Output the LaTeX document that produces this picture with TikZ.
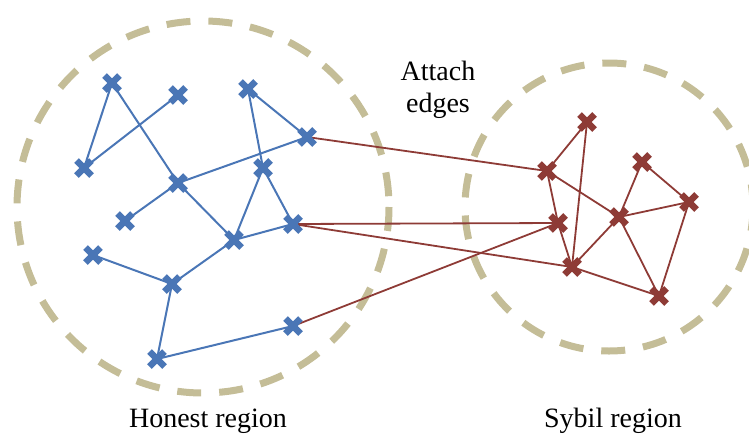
\documentclass[tikz,border=0pt]{standalone}
\usepackage{fontspec}
\setmainfont{Liberation Serif}
\definecolor{honestblue}{HTML}{4A76B6}
\definecolor{sybilred}{HTML}{8E3B36}
\definecolor{regiontan}{HTML}{C4BD97}
\tikzset{
  region/.style={draw=regiontan, line width=7pt, dash pattern=on 24pt off 18pt},
  hedge/.style={draw=honestblue, line width=2pt},
  sedge/.style={draw=sybilred, line width=1.8pt},
  hmark/.style={draw=honestblue, line width=6.5pt},
  smark/.style={draw=sybilred, line width=6.5pt},
  caption/.style={font=\fontsize{28}{32}\selectfont, align=center, inner sep=0pt}
}
\begin{document}
\begin{tikzpicture}[x=1pt, y=-1pt]
\useasboundingbox (0,0) rectangle (749,434);
\begin{scope}
\clip (0,0) rectangle (749,434);
% the two regions
\draw[region] (203,207) circle[radius=186];
\draw[region] (609,207) circle[radius=144];
\end{scope}

% honest nodes
\coordinate (h1) at (112,83);
\coordinate (h2) at (178,95);
\coordinate (h3) at (248,89);
\coordinate (h4) at (307,137);
\coordinate (h5) at (84,168);
\coordinate (h6) at (263,168);
\coordinate (h7) at (178,183);
\coordinate (h8) at (125,221);
\coordinate (h9) at (293,224);
\coordinate (h10) at (234,240);
\coordinate (h11) at (93,255);
\coordinate (h12) at (172,284);
\coordinate (h13) at (293,326);
\coordinate (h14) at (157,359);

% sybil nodes
\coordinate (s1) at (587,122);
\coordinate (s2) at (547,171);
\coordinate (s3) at (642,162);
\coordinate (s4) at (689,202);
\coordinate (s5) at (619,217);
\coordinate (s6) at (558,223);
\coordinate (s7) at (572,267);
\coordinate (s8) at (659,296);

% honest edges
\foreach \a/\b in {h1/h5, h5/h2, h1/h7, h7/h4, h3/h4, h3/h6, h7/h8, h7/h10,
                   h6/h10, h6/h9, h10/h9, h10/h12, h11/h12, h12/h14, h14/h13}
  \draw[hedge] (\a) -- (\b);

% sybil edges
\foreach \a/\b in {s1/s2, s1/s7, s2/s6, s2/s5, s6/s7, s7/s5, s5/s3, s5/s4,
                   s3/s4, s5/s8, s4/s8, s7/s8}
  \draw[sedge] (\a) -- (\b);

% attack edges
\foreach \a/\b in {h4/s2, h9/s6, h9/s7, h13/s6}
  \draw[sedge] (\a) -- (\b);

% node markers
\foreach \n in {h1,h2,h3,h4,h5,h6,h7,h8,h9,h10,h11,h12,h13,h14}
  \draw[hmark] (\n) +(-7.5,-7.5) -- +(7.5,7.5) (\n) +(-7.5,7.5) -- +(7.5,-7.5);
\foreach \n in {s1,s2,s3,s4,s5,s6,s7,s8}
  \draw[smark] (\n) +(-7.5,-7.5) -- +(7.5,7.5) (\n) +(-7.5,7.5) -- +(7.5,-7.5);

% labels
\node[caption] (attach) at (438,90) {Attach\\edges};
\node[caption, anchor=base] (honest) at (208,427) {Honest region};
\node[caption, anchor=base] (sybil) at (613,427) {Sybil region};
\end{tikzpicture}
\end{document}
